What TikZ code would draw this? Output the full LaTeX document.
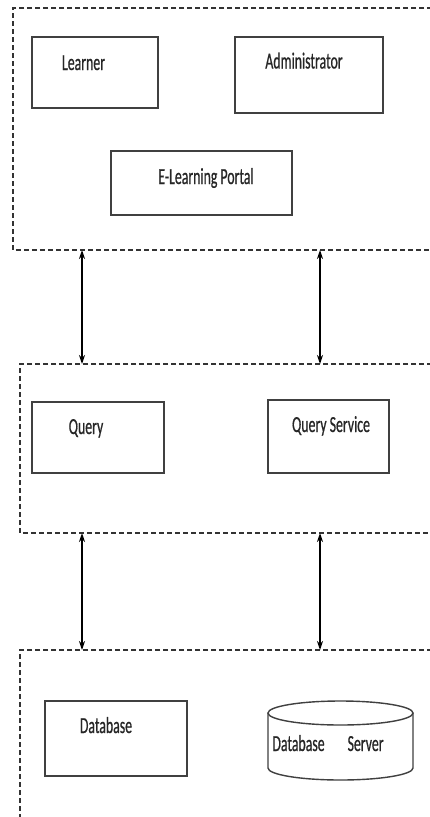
\documentclass[tikz,border=0pt]{standalone}
\usepackage{fontspec}
\setmainfont{Carlito}[FakeStretch=0.6, FakeBold=0.6]
\usetikzlibrary{arrows.meta}
\begin{document}
\begin{tikzpicture}[x=1pt,y=-1pt,
  box/.style={draw=black!75, line width=1.4pt, rectangle, inner sep=0pt},
  lbl/.style={anchor=base, inner sep=0pt, font=\fontsize{23}{26}\selectfont, text=black!85},
  layer/.style={draw=black!80, line width=1.8pt, dash pattern=on 5pt off 3pt},
  link/.style={line width=1.3pt, {Stealth[length=9pt,width=6pt]}-{Stealth[length=9pt,width=6pt]}}]
\useasboundingbox[fill=white] (0,0) rectangle (429,817);

% layers
\draw[layer] (432,8) -- (13,8) -- (13,250) -- (432,250);
\draw[layer] (432,364) -- (20,364) -- (20,533) -- (432,533);
\draw[layer] (432,650) -- (20,650) -- (20,820);

% top layer
\node[box, minimum width=126pt, minimum height=71pt] (learner) at (95,72.5) {};
\node[lbl] (learnert) at (83.5,70) {Learner};
\node[box, minimum width=148pt, minimum height=76pt] (admin) at (309,75) {};
\node[lbl] (admint) at (304,68.5) {Administrator};
\node[box, minimum width=181pt, minimum height=64pt] (portal) at (201.5,183) {};
\node[lbl] (portalt) at (206,184) {E-Learning Portal};

% middle layer
\node[box, minimum width=132pt, minimum height=71pt] (query) at (98,437.5) {};
\node[lbl] (queryt) at (86,434) {Query};
\node[box, minimum width=121pt, minimum height=73pt] (qserv) at (328.5,436.5) {};
\node[lbl] (qservt) at (331,432) {Query Service};

% bottom layer
\node[box, minimum width=142pt, minimum height=75pt] (db) at (116,738.5) {};
\node[lbl] (dbt) at (106,733) {Database};
\node[inner sep=0pt, minimum width=145pt, minimum height=79pt] (dbs) at (340.5,740.5) {};
\draw[draw=black!75, line width=1.4pt] (340.5,713) ellipse [x radius=72.5pt, y radius=12pt];
\draw[draw=black!75, line width=1.4pt] (268,713) -- (268,768)
   arc[start angle=180, end angle=360, x radius=72.5pt, y radius=12pt] -- (413,713);
\node[lbl] (dbst) at (328,751) {Database\quad Server};

% connectors
\coordinate (a1) at (82,250);
\coordinate (b1) at (82,364);
\coordinate (a2) at (320,250);
\coordinate (b2) at (320,364);
\coordinate (a3) at (82,533);
\coordinate (b3) at (82,650);
\coordinate (a4) at (320,533);
\coordinate (b4) at (320,650);
\draw[link] (a1) -- (b1);
\draw[link] (a2) -- (b2);
\draw[link] (a3) -- (b3);
\draw[link] (a4) -- (b4);
\end{tikzpicture}
\end{document}
